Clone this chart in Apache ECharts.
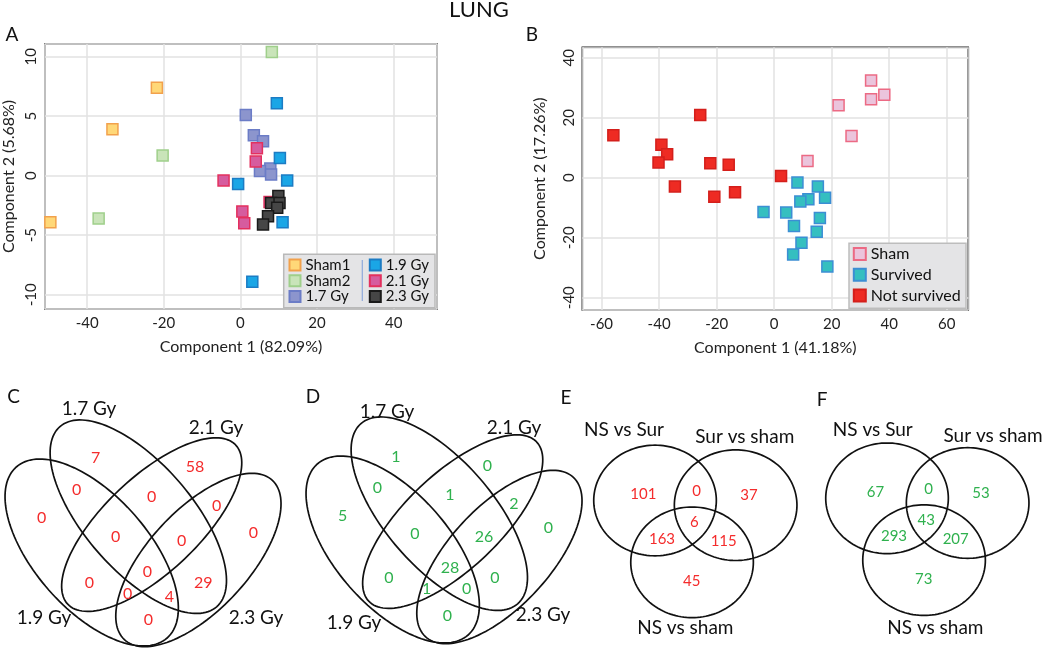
<!DOCTYPE html>
<html><head><meta charset="utf-8">
<script src="https://cdn.jsdelivr.net/npm/echarts@6/dist/echarts.min.js"></script>
<style>html,body{margin:0;padding:0;background:#fff}#c{width:1050px;height:649px}</style>
</head><body><div id="c"></div>
<script>
// ================= DATA =================
const chartTitle = 'LUNG';
const panelLetters = ['A','B','C','D','E','F'];

// Panel A (PCA, dose groups)
const pcaAxName = 'Component 1 (82.09%)';
const pcaAyName = 'Component 2 (5.68%)';
const groupsA = ['Sham1','Sham2','1.7 Gy','1.9 Gy','2.1 Gy','2.3 Gy'];
const sham1A = [[-21.8,7.4],[-33.4,3.9],[-49.6,-3.9]];
const sham2A = [[8.2,10.4],[-20.3,1.7],[-37.0,-3.6]];
const gy17A  = [[1.4,5.1],[3.5,3.4],[5.9,2.9],[7.8,0.6],[5.1,0.4],[8.0,0.1]];
const gy19A  = [[9.5,6.1],[10.3,1.5],[12.2,-0.4],[-0.6,-0.7],[11.0,-3.9],[3.1,-8.9]];
const gy21A  = [[4.3,2.3],[4.0,1.2],[-4.4,-0.4],[0.5,-3.0],[1.0,-4.0],[7.6,-2.2]];
const gy23A  = [[9.9,-1.7],[8.0,-2.3],[10.2,-2.3],[9.6,-2.7],[7.2,-3.4],[5.9,-4.1]];

// Panel B (PCA, outcome groups)
const pcaBxName = 'Component 1 (41.18%)';
const pcaByName = 'Component 2 (17.26%)';
const groupsB = ['Sham','Survived','Not survived'];
const shamB = [[33.7,32.4],[38.3,27.7],[33.7,26.2],[22.4,24.2],[26.9,13.9],[11.6,5.6]];
const survivedB = [[8.1,-1.6],[15.2,-2.9],[17.7,-6.7],[11.9,-7.2],[9.1,-7.9],[-3.7,-11.4],[4.2,-11.6],
                   [15.9,-13.4],[6.9,-16.1],[14.8,-18.0],[9.5,-21.7],[6.6,-25.6],[18.5,-29.6]];
const notSurvivedB = [[-55.9,14.2],[-25.7,20.9],[-39.2,11.0],[-37.2,7.8],[-40.2,5.1],[-34.5,-2.9],
                      [-22.2,4.8],[-15.8,4.3],[-20.8,-6.3],[-13.6,-4.8],[2.4,0.6]];

// Venn C / D (4 sets). Region order:
// 1.9 only, 1.7 only, 2.1 only, 2.3 only, 1.9&1.7, 1.7&2.1, 2.1&2.3, 1.9&2.1, 1.7&2.3, 1.9&2.3,
// 1.9&1.7&2.1, 1.7&2.1&2.3, 1.9&2.1&2.3, 1.9&1.7&2.3, all four
const setsCD = ['1.9 Gy','1.7 Gy','2.1 Gy','2.3 Gy'];
const countsC = [0,7,58,0, 0,0,0, 0,29,0, 0,0,0,4, 0];
const countsD = [5,1,0,0, 0,1,2, 0,0,0, 0,26,1,0, 28];

// Venn E / F (3 sets). Region order: A only, A&B, B only, A&B&C, A&C, B&C, C only
const setsEF = ['NS vs Sur','Sur vs sham','NS vs sham'];
const countsE = [101,0,37,6,163,115,45];
const countsF = [67,0,53,43,293,207,73];

// ================= LAYOUT (Venn templates in local panel units, y downward) =================
const venn4Ellipses = [ // cx, cy, a, b, rotation (deg, positive = down-right)
  [91.7, 162.5, 114, 57, 48.6],
  [138.3, 126.7, 119.4, 53.7, 49],
  [151.7, 134.6, 115.7, 47.5, -43.5],
  [198.4, 170, 108.7, 50.2, -47.1]
];
const venn4SpotsC = [[41.7,128.3],[95.7,68.3],[195,77.3],[253.3,142.7],[76.7,100],[151.7,106.7],[216.7,116],
  [89.3,192.7],[203.3,192.7],[148.3,230],[115.7,146.7],[181.7,150.7],[127.7,204],[169.3,206.7],[147.3,181.7]];
const venn4SpotsD = [[41.7,129],[95,69.7],[186.3,79],[247.3,141.3],[76.3,100.7],[149,108],[213,117],
  [88,190.7],[194,190.7],[146.3,229],[114,147],[183,150.3],[125.7,202.3],[165.7,202.3],[149,181.3]];
const venn4NamesC = [[44,228],[89,19],[216,38],[256,228]];
const venn4NamesD = [[53,236],[86,24.7],[213,41],[242,228]];
const venn3Circles = [[0,0,1,1,0],[1.315,-0.085,1,1,0],[0.604,-1.118,1,1,0]];
const venn3Spots = [[-0.19,0.113],[0.68,0.16],[1.533,0.10],[0.64,-0.394],[0.114,-0.69],[1.12,-0.743],[0.60,-1.46]];
const venn3NamesE = [[-0.506,1.275],[1.463,1.143],[0.494,-2.311]];
const venn3NamesF = [[-0.233,1.235],[1.729,1.132],[0.788,-2.351]];

const FONT = 'Lato, "Liberation Sans", sans-serif';
const RED = '#F42C2C', GREEN = '#2FB14E';

// ================= BUILD =================
const chart = echarts.init(document.getElementById('c'));

function ellipseRender(ells, ySign){
  return function(params, api){
    const e = ells[params.dataIndex];
    const r = e[4]*Math.PI/180, pts = [];
    for (let i = 0; i <= 140; i++){
      const t = i/140*2*Math.PI;
      const x = e[2]*Math.cos(t), y = e[3]*Math.sin(t);
      pts.push(api.coord([e[0] + x*Math.cos(r) - y*Math.sin(r), e[1] + ySign*(x*Math.sin(r) + y*Math.cos(r))]));
    }
    return {type:'polygon', shape:{points:pts}, style:{fill:'none', stroke:'#111', lineWidth:1.7}};
  };
}
function textRender(texts, color, size){
  return function(params, api){
    const p = api.coord([api.value(0), api.value(1)]);
    return {type:'text', x:p[0], y:p[1], style:{text:String(texts[params.dataIndex]), fill:color,
      font: size + 'px ' + FONT, align:'center', verticalAlign:'middle'}};
  };
}
function vennSeries(gi, ells, ySign, spots, counts, color, nameSpots, names, numSize){
  return [
    {type:'custom', xAxisIndex:gi, yAxisIndex:gi, silent:true, clip:false,
     data: ells.map(e => [e[0], e[1]]), renderItem: ellipseRender(ells, ySign)},
    {type:'custom', xAxisIndex:gi, yAxisIndex:gi, silent:true, clip:false,
     data: spots, renderItem: textRender(counts, color, numSize)},
    {type:'custom', xAxisIndex:gi, yAxisIndex:gi, silent:true, clip:false,
     data: nameSpots, renderItem: textRender(names, '#111', 19)}
  ];
}

const axisLabelStyle = {fontFamily:FONT, fontSize:15, color:'#222'};
const gridLine = {lineStyle:{color:'#E2E2E2', width:1.5}};
function pcaAxes(gi, xr, yr, xName, yName, xSplit, xInt, yInt, yGap){
  return {
    x: {type:'value', gridIndex:gi, min:xr[0], max:xr[1], splitNumber:xSplit, minInterval:xInt, maxInterval:xInt,
        axisLine:{show:false}, axisTick:{show:false}, splitLine:gridLine,
        axisLabel:Object.assign({margin:7, showMinLabel:false, showMaxLabel:false}, axisLabelStyle),
        name:xName, nameLocation:'middle', nameGap:30, nameTextStyle:{fontFamily:FONT, fontSize:16, color:'#222'}},
    y: {type:'value', gridIndex:gi, min:yr[0], max:yr[1], splitNumber:5, minInterval:yInt, maxInterval:yInt,
        axisLine:{show:false}, axisTick:{show:false}, splitLine:gridLine,
        axisLabel:Object.assign({margin:6, rotate:90, showMinLabel:false, showMaxLabel:false}, axisLabelStyle),
        name:yName, nameLocation:'middle', nameGap:yGap, nameTextStyle:{fontFamily:FONT, fontSize:16, color:'#222'}}
  };
}
const axA = pcaAxes(0, [-51,51.3], [-11.2,11.07], pcaAxName, pcaAyName, 5, 20, 5, 28);
const axB = pcaAxes(1, [-66.7,67.5], [-44.1,43.5], pcaBxName, pcaByName, 7, 20, 20, 34);

function hiddenAxis(gi, r, inv){ return {type:'value', gridIndex:gi, min:r[0], max:r[1], show:false, inverse:!!inv}; }

function sq(name, data, fill, border, gi){
  return {type:'scatter', name, data, xAxisIndex:gi, yAxisIndex:gi, symbol:'rect', symbolSize:11,
          itemStyle:{color:fill, borderColor:border, borderWidth:1.5, opacity:1}};
}

const seriesA = [
  sq(groupsA[0], sham1A, '#FFD878', '#F2A14C', 0),
  sq(groupsA[1], sham2A, '#C9E4B9', '#9FCF8B', 0),
  sq(groupsA[2], gy17A, '#8C95CD', '#6B7CC6', 0),
  sq(groupsA[3], gy19A, '#1AA6E6', '#1C7CC4', 0),
  sq(groupsA[4], gy21A, '#D65C9E', '#E3305E', 0),
  sq(groupsA[5], gy23A, '#464646', '#1A1A1A', 0)
];
const seriesB = [
  sq(groupsB[0], shamB, '#EBC4DC', '#EC6A84', 1),
  sq(groupsB[1], survivedB, '#35BFC0', '#3C8ED4', 1),
  sq(groupsB[2], notSurvivedB, '#EE2B23', '#D41F1B', 1)
];

const legendText = {fontFamily:FONT, fontSize:15, color:'#111'};

const option = {
  animation:false,
  backgroundColor:'#fff',
  grid:[
    {left:45, top:44, width:392, height:265, show:true, borderColor:'#222', borderWidth:1.5, backgroundColor:'#fff'},
    {left:582.3, top:47.3, width:386, height:262.7, show:true, borderColor:'#222', borderWidth:1.5, backgroundColor:'#fff'},
    {left:0, top:390, width:290, height:259},
    {left:301, top:387, width:290, height:259},
    {left:578.4, top:412, width:229.9, height:232.3},
    {left:810.4, top:409.8, width:229.9, height:232.3}
  ],
  xAxis:[axA.x, axB.x, hiddenAxis(2,[0,290]), hiddenAxis(3,[0,290]), hiddenAxis(4,[-1.25,2.5]), hiddenAxis(5,[-1.25,2.5])],
  yAxis:[axA.y, axB.y, hiddenAxis(2,[0,259],true), hiddenAxis(3,[0,259],true), hiddenAxis(4,[-2.6,1.6]), hiddenAxis(5,[-2.6,1.6])],
  legend:[
    {data:groupsA.slice(0,3), orient:'vertical', left:288.5, top:257.1, padding:0, itemGap:0, itemWidth:11, itemHeight:11,
     selectedMode:false, textStyle:Object.assign({lineHeight:15.8}, legendText), z:5},
    {data:groupsA.slice(3), orient:'vertical', left:368.8, top:257.1, padding:0, itemGap:0, itemWidth:11, itemHeight:11,
     selectedMode:false, textStyle:Object.assign({lineHeight:15.8}, legendText), z:5},
    {data:groupsB, orient:'vertical', left:852.8, top:243.6, padding:0, itemGap:0, itemWidth:12, itemHeight:12,
     selectedMode:false, textStyle:Object.assign({}, legendText, {fontSize:16, lineHeight:20.8}), z:5}
  ],
  graphic:[
    {type:'rect', z:3, shape:{x:283.7, y:254.3, width:151.3, height:53.4}, style:{fill:'#E4E4E6', stroke:'#B9B9B9', lineWidth:1.5}},
    {type:'line', z:3, shape:{x1:362.3, y1:260, x2:362.3, y2:301}, style:{stroke:'#8EA9DB', lineWidth:1.2}},
    {type:'rect', z:3, shape:{x:849, y:243.3, width:117, height:65}, style:{fill:'#E4E4E6', stroke:'#BDBDBD', lineWidth:1.5}},
    {type:'text', x:479, y:10, style:{text:chartTitle, font:'22px ' + FONT, fill:'#111', align:'center', verticalAlign:'middle'}},
    {type:'text', x:12, y:35, style:{text:panelLetters[0], font:'19px ' + FONT, fill:'#111', align:'center', verticalAlign:'middle'}},
    {type:'text', x:532, y:35, style:{text:panelLetters[1], font:'19px ' + FONT, fill:'#111', align:'center', verticalAlign:'middle'}},
    {type:'text', x:13.5, y:397, style:{text:panelLetters[2], font:'19px ' + FONT, fill:'#111', align:'center', verticalAlign:'middle'}},
    {type:'text', x:313, y:397, style:{text:panelLetters[3], font:'19px ' + FONT, fill:'#111', align:'center', verticalAlign:'middle'}},
    {type:'text', x:566, y:397.5, style:{text:panelLetters[4], font:'19px ' + FONT, fill:'#111', align:'center', verticalAlign:'middle'}},
    {type:'text', x:822, y:399.5, style:{text:panelLetters[5], font:'19px ' + FONT, fill:'#111', align:'center', verticalAlign:'middle'}}
  ],
  series:[].concat(
    seriesA, seriesB,
    vennSeries(2, venn4Ellipses, 1, venn4SpotsC, countsC, RED, venn4NamesC, setsCD, 16),
    vennSeries(3, venn4Ellipses, 1, venn4SpotsD, countsD, GREEN, venn4NamesD, setsCD, 16),
    vennSeries(4, venn3Circles, -1, venn3Spots, countsE, RED, venn3NamesE, setsEF, 15),
    vennSeries(5, venn3Circles, -1, venn3Spots, countsF, GREEN, venn3NamesF, setsEF, 15)
  )
};
chart.setOption(option);
</script>
</body></html>
